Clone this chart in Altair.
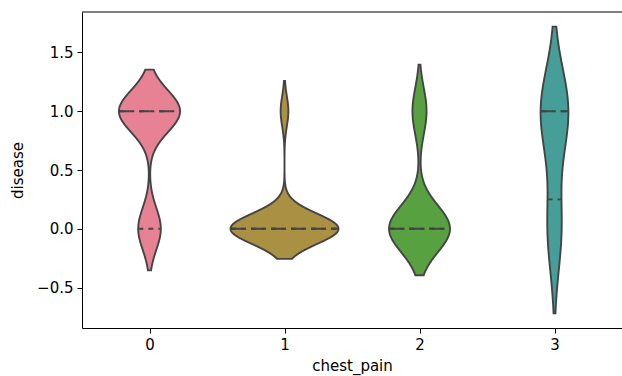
import altair as alt
import pandas as pd

# ---- data ----
chest_pain = [0, 1, 2, 3]
n_no_disease = [27, 28, 26, 2]   # rows with disease == 0 per chest_pain group
n_disease = [73, 2, 6, 4]        # rows with disease == 1 per chest_pain group
palette = ["#e68294", "#aa9043", "#58a141", "#459e97"]
x_ticks = [0, 1, 2, 3]
y_ticks = [-0.5, 0.0, 0.5, 1.0, 1.5]

rows = []
for c, n0, n1 in zip(chest_pain, n_no_disease, n_disease):
    rows += [{"chest_pain": c, "disease": 0.0}] * n0
    rows += [{"chest_pain": c, "disease": 1.0}] * n1
df = pd.DataFrame(rows)

W, H = 540, 316
GRAY = "#444444"
FONT = "DejaVu Sans"
FS = 15
LW = 1.9

xscale = alt.Scale(domain=[-0.5, 3.5], nice=False, zero=False)
yscale = alt.Scale(domain=[-0.844, 1.844], nice=False, zero=False)
xaxis = alt.Axis(values=x_ticks, format="d", labelAngle=0, title="chest_pain", grid=False)
yaxis = alt.Axis(values=y_ticks, format=".1f", title="disease", grid=False)


def X(field):
    return alt.X(field, type="quantitative", scale=xscale, axis=xaxis)


def Y(field):
    return alt.Y(field, type="quantitative", scale=yscale, axis=yaxis)


# Gaussian KDE per group (Scott bandwidth, cut = 2 bandwidths), area-scaled violins
base = (
    alt.Chart(df)
    .transform_joinaggregate(
        sd="stdev(disease)", n="count()", lo="min(disease)", hi="max(disease)",
        q1="q1(disease)", med="median(disease)", q3="q3(disease)",
        groupby=["chest_pain"],
    )
    .transform_calculate(h="datum.sd * pow(datum.n, -0.2)")
    .transform_calculate(z="datum.disease / datum.h")
    .transform_density(
        "z",
        groupby=["chest_pain", "h", "lo", "hi", "q1", "med", "q3"],
        bandwidth=1,
        extent=[-2.5, 10.5],
        steps=1301,
        as_=["zv", "dz"],
    )
    .transform_calculate(y="datum.zv * datum.h", d="datum.dz / datum.h")
    .transform_filter(
        "datum.zv >= datum.lo / datum.h - 2.0001 && datum.zv <= datum.hi / datum.h + 2.0001"
    )
    .transform_joinaggregate(dmax="max(d)")
    .transform_calculate(hw="0.4 * datum.d / datum.dmax")
    .transform_calculate(
        left="datum.chest_pain - datum.hw", right="datum.chest_pain + datum.hw"
    )
)

violins = base.mark_area(
    orient="horizontal", stroke=GRAY, strokeWidth=LW, opacity=1
).encode(
    y=Y("y"),
    x=X("left"),
    x2="right:Q",
    color=alt.Color("chest_pain:N", scale=alt.Scale(domain=chest_pain, range=palette), legend=None),
)


def qrule(q, dash):
    return (
        base.transform_calculate(dq=f"abs(datum.y - datum.{q})")
        .transform_joinaggregate(mind="min(dq)", groupby=["chest_pain"])
        .transform_filter("datum.dq == datum.mind")
        .transform_calculate(
            qa="datum.chest_pain - 0.99 * datum.hw",
            qb="datum.chest_pain + 0.99 * datum.hw",
        )
        .mark_rule(color=GRAY, strokeWidth=LW, strokeDash=dash)
        .encode(x=X("qa"), x2="qb:Q", y=Y(q))
    )


top_spine = (
    alt.Chart(pd.DataFrame({"a": [0]}))
    .mark_rule(color="#000000", strokeWidth=1)
    .encode(x=alt.value(0), x2=alt.value(W), y=alt.value(0))
)

chart = (
    alt.layer(violins, qrule("q1", [5, 5]), qrule("med", [10, 10]), qrule("q3", [5, 5]), top_spine)
    .properties(
        width=W,
        height=H,
        autosize=alt.AutoSizeParams(type="none"),
        padding={"left": 82, "top": 12, "right": 0, "bottom": 48},
        background="white",
    )
    .configure_view(stroke=None)
    .configure_axis(
        labelFont=FONT, labelFontSize=FS, labelColor="#000000",
        titleFont=FONT, titleFontSize=FS, titleFontWeight="normal", titleColor="#000000",
        domainColor="#000000", domainWidth=1, tickColor="#000000", tickWidth=1, tickSize=5,
        labelPadding=4,
    )
    .configure_axisX(titlePadding=6)
    .configure_axisY(titlePadding=11)
)

chart.save("out.html", embed_options={"renderer": "svg", "actions": False})
